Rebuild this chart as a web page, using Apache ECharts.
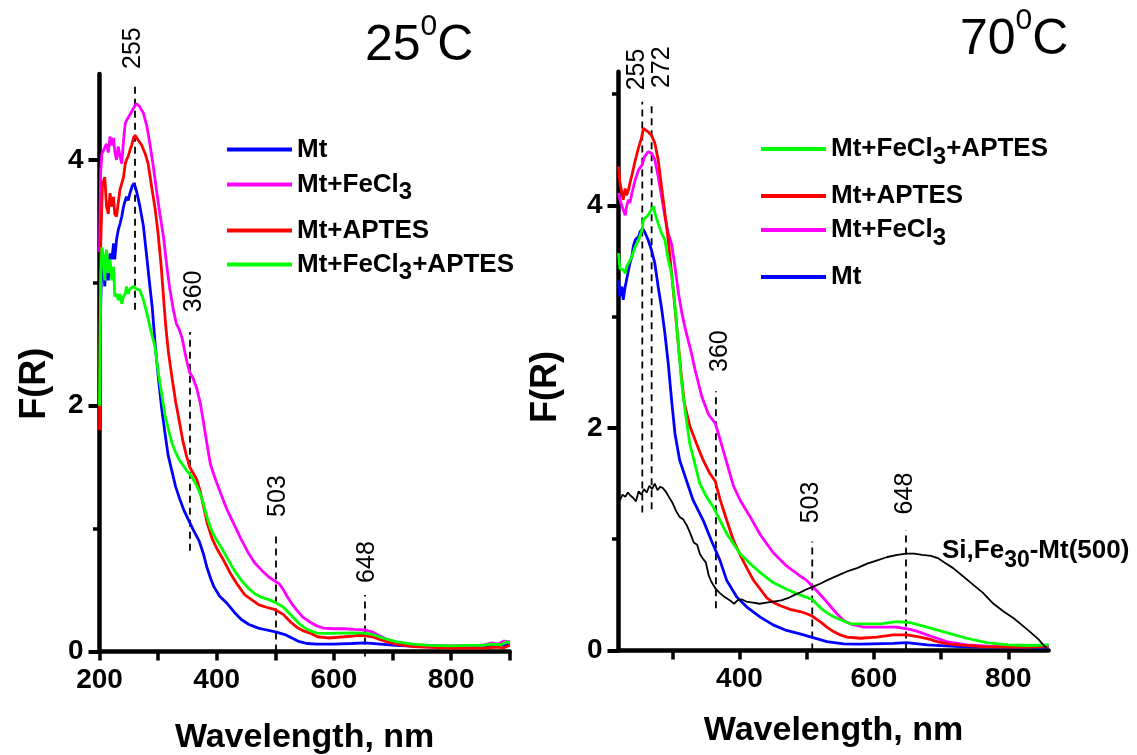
<!DOCTYPE html>
<html><head><meta charset="utf-8">
<script src="https://cdn.jsdelivr.net/npm/echarts@6/dist/echarts.min.js"></script>
<style>html,body{margin:0;padding:0;background:#fff}#c{width:1137px;height:755px}</style>
</head><body><div id="c"></div>
<script>
// ---------- 25 °C panel (wavelength nm, F(R)) ----------
const L_Mt = [[201,2.6],[203,3.0],[206,3.22],[209,2.97],[212,3.24],[215,3.02],[218,3.24],[221,3.19],[224,3.32],[226,3.19],[229,3.35],[232,3.43],[235,3.48],[238,3.54],[241,3.62],[244,3.67],[246,3.70],[249,3.67],[252,3.73],[256,3.79],[259,3.81],[263,3.75],[269,3.62],[275,3.46],[280,3.24],[286,2.97],[290,2.80],[295,2.50],[300,2.25],[306,1.98],[312,1.77],[317,1.60],[324,1.46],[330,1.34],[337,1.24],[344,1.15],[350,1.09],[360,0.99],[370,0.90],[377,0.80],[383,0.69],[390,0.59],[395,0.53],[405,0.45],[418,0.39],[430,0.32],[442,0.26],[455,0.22],[471,0.19],[485,0.175],[500,0.16],[518,0.135],[530,0.105],[541,0.08],[555,0.065],[571,0.06],[600,0.06],[630,0.065],[653,0.07],[680,0.06],[706,0.05],[750,0.04],[794,0.035],[850,0.04],[870,0.045],[880,0.06],[890,0.05],[900,0.06]];
const L_FeCl3 = [[200,3.25],[202,3.9],[204,4.05],[207,4.08],[212,4.13],[215,4.06],[218,4.19],[221,4.12],[224,4.18],[226,4.07],[229,4.00],[232,4.11],[235,4.03],[238,3.97],[241,4.16],[244,4.30],[246,4.32],[252,4.37],[258,4.42],[263,4.46],[269,4.43],[275,4.38],[281,4.27],[286,4.13],[292,3.94],[298,3.73],[303,3.56],[309,3.38],[315,3.13],[320,2.95],[326,2.78],[331,2.67],[336,2.62],[341,2.55],[346,2.43],[350,2.34],[354,2.27],[360,2.22],[366,2.14],[372,2.02],[377,1.88],[383,1.70],[389,1.53],[395,1.44],[401,1.36],[409,1.26],[418,1.15],[431,1.02],[442,0.91],[453,0.81],[465,0.72],[477,0.66],[488,0.61],[500,0.57],[507,0.55],[514,0.50],[520,0.45],[528,0.39],[536,0.34],[547,0.28],[559,0.24],[570,0.21],[582,0.19],[600,0.185],[618,0.185],[635,0.18],[653,0.175],[665,0.16],[677,0.13],[690,0.10],[706,0.075],[730,0.055],[765,0.05],[800,0.045],[830,0.05],[853,0.05],[870,0.07],[880,0.06],[890,0.085],[900,0.08]];
const L_APTES = [[200,1.8],[202,3.3],[205,3.8],[209,3.86],[212,3.62],[215,3.56],[218,3.73],[221,3.62],[224,3.70],[226,3.56],[229,3.54],[232,3.65],[235,3.76],[238,3.81],[241,3.86],[244,3.97],[246,4.00],[249,4.03],[252,4.08],[255,4.12],[258,4.18],[261,4.20],[266,4.16],[272,4.12],[278,4.05],[283,3.97],[289,3.78],[295,3.60],[300,3.40],[305,3.15],[309,2.90],[313,2.65],[318,2.42],[324,2.22],[330,2.03],[336,1.88],[342,1.72],[348,1.60],[354,1.50],[360,1.45],[366,1.40],[372,1.30],[378,1.17],[384,1.04],[392,0.92],[400,0.84],[412,0.74],[424,0.63],[436,0.54],[448,0.46],[460,0.42],[472,0.38],[485,0.36],[500,0.34],[514,0.30],[526,0.24],[536,0.20],[547,0.17],[559,0.15],[572,0.12],[590,0.11],[618,0.12],[640,0.13],[653,0.13],[665,0.12],[677,0.10],[690,0.08],[706,0.06],[735,0.04],[765,0.033],[800,0.028],[853,0.028],[880,0.035],[890,0.03],[900,0.05]];
const L_FeCl3_APTES = [[200,2.0],[202,3.0],[204,3.29],[207,3.21],[209,3.02],[212,3.27],[215,3.08],[218,3.19],[221,3.02],[224,3.13],[226,2.89],[229,2.91],[232,2.86],[235,2.91],[238,2.83],[241,2.89],[244,2.91],[246,2.97],[249,2.91],[252,2.95],[255,2.94],[258,2.97],[263,2.95],[269,2.94],[275,2.86],[281,2.75],[286,2.64],[291,2.55],[295,2.47],[300,2.28],[306,2.10],[312,1.92],[318,1.80],[324,1.69],[330,1.62],[336,1.56],[342,1.52],[349,1.47],[355,1.44],[360,1.40],[366,1.35],[372,1.28],[377,1.21],[383,1.10],[390,1.00],[397,0.93],[406,0.86],[418,0.76],[430,0.66],[442,0.58],[453,0.52],[465,0.47],[477,0.44],[490,0.42],[500,0.40],[507,0.38],[514,0.36],[522,0.32],[530,0.28],[540,0.23],[548,0.20],[559,0.17],[571,0.15],[588,0.148],[610,0.15],[630,0.152],[653,0.15],[665,0.14],[677,0.12],[690,0.10],[706,0.08],[735,0.06],[765,0.05],[800,0.045],[830,0.05],[853,0.05],[870,0.06],[885,0.055],[895,0.08],[900,0.07]];

// ---------- 70 °C panel ----------
const R_Mt = [[220,3.33],[222,3.18],[225,3.27],[227,3.15],[230,3.27],[232,3.33],[235,3.42],[237,3.48],[240,3.54],[242,3.63],[245,3.69],[247,3.69],[250,3.72],[252,3.76],[256,3.79],[259,3.76],[264,3.69],[269,3.60],[274,3.48],[279,3.27],[284,3.08],[289,2.85],[294,2.58],[299,2.25],[304,1.95],[311,1.71],[321,1.53],[331,1.35],[346,1.17],[358,0.99],[371,0.81],[381,0.63],[396,0.48],[411,0.39],[431,0.30],[450,0.23],[470,0.18],[490,0.15],[507,0.12],[530,0.08],[555,0.06],[580,0.058],[629,0.064],[649,0.07],[679,0.05],[728,0.034],[800,0.028],[860,0.03]];
const R_FeCl3 = [[220,4.11],[222,4.05],[227,3.96],[230,3.91],[232,3.99],[235,4.05],[237,4.02],[240,4.11],[245,4.23],[250,4.32],[255,4.36],[259,4.44],[264,4.48],[269,4.47],[274,4.41],[279,4.26],[284,4.08],[289,3.90],[294,3.75],[299,3.65],[304,3.45],[309,3.22],[314,3.04],[319,2.90],[324,2.78],[329,2.66],[334,2.52],[344,2.28],[354,2.12],[364,2.04],[371,1.90],[381,1.69],[391,1.48],[401,1.35],[416,1.20],[431,1.04],[450,0.88],[470,0.76],[490,0.67],[500,0.63],[508,0.58],[516,0.53],[525,0.47],[535,0.40],[545,0.33],[555,0.27],[565,0.24],[585,0.21],[609,0.21],[634,0.21],[654,0.19],[666,0.17],[679,0.14],[694,0.11],[708,0.08],[738,0.05],[770,0.04],[802,0.035],[830,0.035],[860,0.04]];
const R_APTES = [[220,4.35],[222,4.21],[225,4.11],[227,4.05],[230,4.15],[232,4.09],[235,4.14],[237,4.20],[240,4.27],[244,4.38],[249,4.50],[254,4.60],[257,4.69],[259,4.70],[264,4.66],[269,4.63],[274,4.56],[279,4.41],[284,4.17],[289,3.93],[294,3.69],[299,3.39],[304,3.08],[309,2.75],[313,2.50],[318,2.22],[326,2.02],[336,1.86],[346,1.71],[356,1.59],[364,1.52],[371,1.36],[381,1.17],[391,0.99],[401,0.86],[411,0.74],[421,0.63],[431,0.55],[441,0.47],[451,0.43],[462,0.40],[475,0.37],[490,0.35],[500,0.33],[508,0.31],[515,0.28],[522,0.25],[530,0.21],[540,0.17],[550,0.14],[560,0.12],[580,0.11],[604,0.12],[629,0.14],[649,0.14],[669,0.12],[684,0.10],[694,0.08],[710,0.06],[728,0.05],[760,0.035],[800,0.03],[830,0.03],[860,0.04]];
const R_FeCl3_APTES = [[220,3.57],[222,3.43],[227,3.42],[230,3.39],[232,3.45],[235,3.48],[240,3.54],[245,3.63],[250,3.69],[255,3.78],[257,3.87],[259,3.88],[264,3.91],[269,3.96],[272,3.99],[274,3.93],[279,3.84],[284,3.75],[289,3.69],[294,3.51],[299,3.39],[304,3.10],[309,2.75],[314,2.40],[319,2.16],[326,1.86],[331,1.74],[341,1.50],[351,1.38],[361,1.29],[371,1.17],[381,1.05],[391,0.96],[401,0.87],[416,0.78],[431,0.70],[450,0.61],[470,0.55],[490,0.50],[508,0.46],[516,0.41],[525,0.36],[535,0.32],[545,0.29],[565,0.24],[585,0.24],[610,0.24],[634,0.26],[654,0.25],[679,0.21],[708,0.16],[738,0.11],[768,0.07],[800,0.05],[830,0.045],[860,0.05]];
const R_SiFe = [[222,1.35],[226,1.40],[230,1.38],[234,1.42],[238,1.39],[242,1.37],[246,1.34],[250,1.43],[254,1.40],[258,1.45],[262,1.42],[266,1.48],[270,1.45],[274,1.50],[278,1.44],[282,1.47],[286,1.46],[290,1.43],[295,1.38],[300,1.33],[306,1.25],[311,1.20],[316,1.18],[322,1.12],[327,1.05],[332,0.97],[337,0.95],[341,0.87],[345,0.83],[350,0.79],[354,0.68],[358,0.62],[364,0.56],[370,0.52],[378,0.48],[386,0.45],[392,0.42],[397,0.45],[403,0.46],[410,0.44],[420,0.43],[430,0.42],[440,0.43],[450,0.44],[462,0.45],[472,0.47],[482,0.50],[490,0.52],[500,0.55],[508,0.57],[520,0.60],[530,0.63],[545,0.67],[560,0.71],[575,0.74],[590,0.78],[605,0.81],[620,0.84],[635,0.86],[648,0.87],[660,0.87],[672,0.86],[685,0.85],[695,0.83],[705,0.79],[718,0.74],[730,0.68],[748,0.59],[762,0.52],[778,0.42],[793,0.35],[808,0.29],[820,0.23],[832,0.17],[845,0.10],[852,0.05],[857,0.02]];

// peak markers: [wavelength, F(R) from, F(R) to]
const L_peakLines = [[260.6,2.78,4.63],[354.4,0.82,2.60],[501.2,0.0,0.95],[653,-0.04,0.46]];
const R_peakLines = [[255.4,1.24,4.93],[269.3,1.27,4.93],[365,0.38,2.33],[508.3,0.0,0.98],[647.8,0.0,1.08]];
// peak label anchors: [wavelength, F(R), text]
const L_peakLabels = [[257.2,4.91,'255'],[361.3,2.93,'360'],[504.6,1.265,'503'],[656.5,0.728,'648']];
const R_peakLabels = [[247.5,5.22,'255'],[284.7,5.24,'272'],[371,2.69,'360'],[506.4,1.33,'503'],[647,1.41,'648']];

const L_xTicks = [200,300,400,500,600,700,800,900];
const L_xLabels = [200,400,600,800];
const R_xTicks = [300,400,500,600,700,800];
const R_xLabels = [400,600,800];
const L_yMajor = [0,2,4], L_yMinor = [1,3];
const R_yMajor = [0,2,4], R_yMinor = [1,3,5];

const FONT = 'Liberation Sans, Arial, Helvetica, sans-serif';
const C = {Mt:'#0000ff', FeCl3:'#ff00ff', APTES:'#ff0000', FeCl3_APTES:'#00ff00', SiFe:'#000000'};
const N = {Mt:'Mt', FeCl3:'Mt+FeCl3', APTES:'Mt+APTES', FeCl3_APTES:'Mt+FeCl3+APTES'};

function richName(name){
  if (name === 'Mt+FeCl3') return '{m|Mt+FeCl}{s|3}';
  if (name === 'Mt+FeCl3+APTES') return '{m|Mt+FeCl}{s|3}{m|+APTES}';
  return '{m|' + name + '}';
}
const legendRich = {
  m:{fontSize:26,fontWeight:'bold',lineHeight:40,fontFamily:FONT,color:'#000'},
  s:{fontSize:24,fontWeight:'bold',lineHeight:24,verticalAlign:'bottom',fontFamily:FONT,color:'#000'}
};
function legendItem(name, left, top){
  return {data:[name], left:left, top:top, orient:'vertical', padding:0, icon:'rect',
    itemWidth:65, itemHeight:4, selectedMode:false,
    formatter: richName, textStyle:{rich:legendRich}};
}

function xAxisCfg(grid, min, max, ticks, labels, gap){
  return {type:'value', gridIndex:grid, min:min, max:max,
    axisLine:{show:true, onZero:false, lineStyle:{color:'#000', width:4.5}},
    axisTick:{show:true, length:9, customValues:ticks, lineStyle:{color:'#000', width:3.5}},
    axisLabel:{customValues:labels, margin:15, fontSize:28, fontWeight:'bold', color:'#000', fontFamily:FONT},
    splitLine:{show:false},
    name:'Wavelength, nm', nameLocation:'middle', nameGap:gap,
    nameTextStyle:{fontSize:34, fontWeight:'bold', color:'#000', fontFamily:FONT}};
}
function yAxisCfg(grid, max, major, gap, pad){
  return {type:'value', gridIndex:grid, min:0, max:max,
    axisLine:{show:true, onZero:false, lineStyle:{color:'#000', width:4.5}},
    axisTick:{show:true, length:11, customValues:major, lineStyle:{color:'#000', width:4}},
    axisLabel:{customValues:major, margin:16, fontSize:28, fontWeight:'bold', color:'#000', fontFamily:FONT},
    splitLine:{show:false},
    name:'F(R)', nameLocation:'middle', nameGap:gap,
    nameTextStyle:{fontSize:36, fontWeight:'bold', color:'#000', fontFamily:FONT, padding:[0,pad,0,0]}};
}
function yMinorCfg(grid, max, minor){
  return {type:'value', gridIndex:grid, min:0, max:max, position:'left',
    axisLine:{show:false}, axisLabel:{show:false}, splitLine:{show:false},
    axisTick:{show:true, length:6.5, customValues:minor, lineStyle:{color:'#000', width:3.5}}};
}

function curve(name, data, color, xi, yi, w){
  return {type:'line', name:name, data:data, xAxisIndex:xi, yAxisIndex:yi,
    showSymbol:false, symbol:'none', animation:false, silent:true,
    lineStyle:{color:color, width:w}, itemStyle:{color:color}, z:3};
}
function dashLines(lines, xi, yi){
  return lines.map(l => ({type:'line', data:[[l[0],l[1]],[l[0],l[2]]], xAxisIndex:xi, yAxisIndex:yi,
    showSymbol:false, symbol:'none', animation:false, silent:true, clip:false, z:2,
    lineStyle:{color:'#000', width:1.8, type:[7,5]}}));
}
function peakLabels(labels, xi, yi){
  return {type:'scatter', data:labels, xAxisIndex:xi, yAxisIndex:yi, symbol:'circle', symbolSize:0, clip:false,
    silent:true, animation:false, itemStyle:{color:'#000', opacity:1},
    label:{show:true, position:'inside', rotate:90, formatter:p => p.value[2],
      fontSize:25, color:'#000', opacity:1, textBorderWidth:0, fontFamily:FONT}};
}

const chart = echarts.init(document.getElementById('c'), null, {renderer:'canvas'});
chart.setOption({
  backgroundColor:'#fff',
  animation:false,
  grid:[
    {left:99.5, right:627.3, top:73.9, bottom:103.5, containLabel:false, outerBoundsMode:'none'},
    {left:618.5, right:88.4, top:71.7, bottom:104.5, containLabel:false, outerBoundsMode:'none'}
  ],
  xAxis:[
    xAxisCfg(0, 200, 900, L_xTicks, L_xLabels, 69),
    xAxisCfg(1, 220, 860, R_xTicks, R_xLabels, 63)
  ],
  yAxis:[
    yAxisCfg(0, 4.7, L_yMajor, 46, 42),
    yAxisCfg(1, 5.2, R_yMajor, 54, 52),
    yMinorCfg(0, 4.7, L_yMinor),
    yMinorCfg(1, 5.2, R_yMinor)
  ],
  legend:[
    legendItem(N.Mt, 227, 136.5),
    legendItem(N.FeCl3, 227, 171.5),
    legendItem(N.APTES, 227, 217.5),
    legendItem(N.FeCl3_APTES, 227, 251.5),
    legendItem(N.FeCl3_APTES, 761, 136),
    legendItem(N.APTES, 761, 183),
    legendItem(N.FeCl3, 761, 217),
    legendItem(N.Mt, 761, 264)
  ],
  graphic:[
    {type:'text', left:365, top:12, silent:true, style:{text:'{a|25}{b|0}{a|C}',
      rich:{a:{fontSize:50, lineHeight:68, fontFamily:FONT, fill:'#000'},
            b:{fontSize:30, lineHeight:30, verticalAlign:'top', fontFamily:FONT, fill:'#000'}}}},
    {type:'text', left:960, top:6, silent:true, style:{text:'{a|70}{b|0}{a|C}',
      rich:{a:{fontSize:50, lineHeight:68, fontFamily:FONT, fill:'#000'},
            b:{fontSize:30, lineHeight:30, verticalAlign:'top', fontFamily:FONT, fill:'#000'}}}},
    {type:'text', left:942, top:538, silent:true, style:{text:'{m|Si,Fe}{s|30}{m|-Mt(500)}',
      rich:{m:{fontSize:26, fontWeight:'bold', lineHeight:42, fontFamily:FONT, fill:'#000'},
            s:{fontSize:23, fontWeight:'bold', lineHeight:23, verticalAlign:'bottom', fontFamily:FONT, fill:'#000'}}}}
  ],
  series:[
    curve(N.Mt, L_Mt, C.Mt, 0, 0, 2.8),
    curve(N.FeCl3, L_FeCl3, C.FeCl3, 0, 0, 2.8),
    curve(N.APTES, L_APTES, C.APTES, 0, 0, 2.8),
    curve(N.FeCl3_APTES, L_FeCl3_APTES, C.FeCl3_APTES, 0, 0, 2.8),
    curve(N.Mt, R_Mt, C.Mt, 1, 1, 2.8),
    curve(N.FeCl3, R_FeCl3, C.FeCl3, 1, 1, 2.8),
    curve(N.APTES, R_APTES, C.APTES, 1, 1, 2.8),
    curve(N.FeCl3_APTES, R_FeCl3_APTES, C.FeCl3_APTES, 1, 1, 2.8),
    curve('Si,Fe30-Mt(500)', R_SiFe, C.SiFe, 1, 1, 1.8),
    ...dashLines(L_peakLines, 0, 0),
    ...dashLines(R_peakLines, 1, 1),
    peakLabels(L_peakLabels, 0, 0),
    peakLabels(R_peakLabels, 1, 1)
  ]
});
</script>
</body></html>
